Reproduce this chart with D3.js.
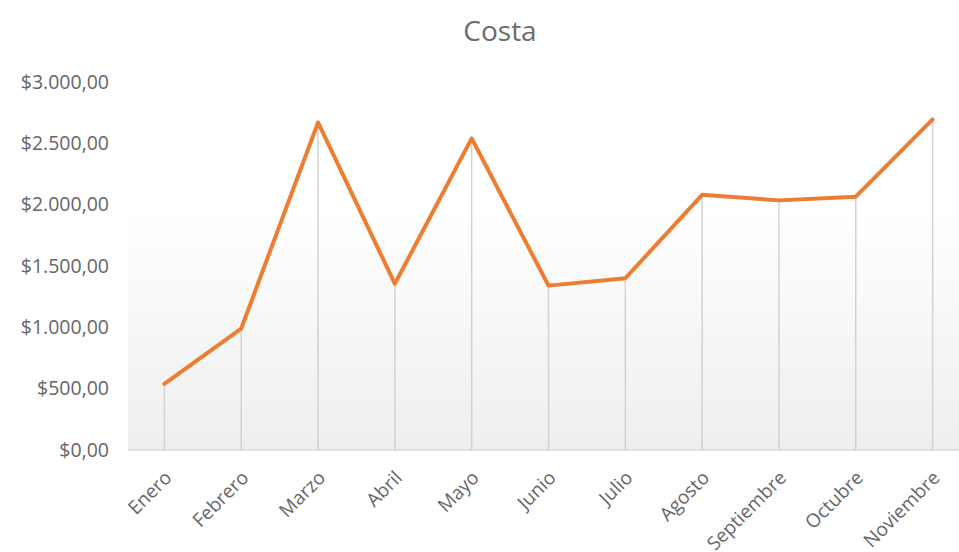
<!DOCTYPE html>
<html>
<head>
<meta charset="utf-8">
<script src="https://cdn.jsdelivr.net/npm/d3@7"></script>
<style>
  html, body { margin: 0; padding: 0; background: #fff; }
  svg { display: block; }
</style>
</head>
<body>
<svg id="chart" width="959" height="552"></svg>
<script>
// Monthly figures for "Costa"
const title = "Costa";
const months = ["Enero", "Febrero", "Marzo", "Abril", "Mayo", "Junio", "Julio",
                "Agosto", "Septiembre", "Octubre", "Noviembre"];
const values = [540, 990, 2670, 1355, 2540, 1340, 1400, 2080, 2035, 2065, 2695];
const yTicks = [0, 500, 1000, 1500, 2000, 2500, 3000];

const svg = d3.select("#chart");
const plot = { left: 128, right: 959, top: 82, bottom: 450 };

const x = d3.scalePoint().domain(months).range([126, 971]).padding(0.5);
const y = d3.scaleLinear().domain([0, 3000]).range([plot.bottom, plot.top]);

// es-ES style currency: $3.000,00
const money = v => "$" + d3.format(",.2f")(v).replace(/,/g, "#").replace(/\./g, ",").replace(/#/g, ".");

// plot-area gradient (white at top, pale grey at base)
const defs = svg.append("defs");
const grad = defs.append("linearGradient")
  .attr("id", "plotBg").attr("x1", 0).attr("y1", 0).attr("x2", 0).attr("y2", 1);
grad.append("stop").attr("offset", "0%").attr("stop-color", "#ffffff");
grad.append("stop").attr("offset", "35%").attr("stop-color", "#ffffff");
grad.append("stop").attr("offset", "100%").attr("stop-color", "#eeeeee");

svg.append("rect")
  .attr("x", plot.left).attr("y", plot.top)
  .attr("width", plot.right - plot.left).attr("height", plot.bottom - plot.top)
  .attr("fill", "url(#plotBg)");

// title
svg.append("text")
  .attr("x", 500).attr("y", 41)
  .attr("text-anchor", "middle")
  .attr("font-family", "'Open Sans', sans-serif")
  .attr("font-size", 28)
  .attr("fill", "#6b6b6b")
  .text(title);

// y axis labels (no axis line)
const yAxis = d3.axisLeft(y).tickValues(yTicks).tickFormat(money).tickSize(0).tickPadding(0);
const yG = svg.append("g").attr("transform", "translate(109,0)").call(yAxis);
yG.select(".domain").remove();
yG.selectAll("text")
  .attr("font-family", "'Open Sans', sans-serif")
  .attr("font-size", 19.5)
  .attr("fill", "#666666");

// drop lines from each point to the base
svg.append("g").selectAll("line")
  .data(values)
  .join("line")
  .attr("x1", (d, i) => x(months[i])).attr("x2", (d, i) => x(months[i]))
  .attr("y1", d => y(d)).attr("y2", y(0))
  .attr("stroke", "#d2d2d2").attr("stroke-width", 1.5);

// x axis baseline and rotated labels
const xAxis = d3.axisBottom(x).tickSize(0).tickPadding(0);
const xG = svg.append("g").attr("transform", `translate(0,${y(0)})`).call(xAxis);
xG.select(".domain")
  .attr("d", `M${plot.left},0H${plot.right}`)
  .attr("stroke", "#d9d9d9").attr("stroke-width", 1.5);
xG.selectAll("text")
  .attr("font-family", "'Open Sans', sans-serif")
  .attr("font-size", 19)
  .attr("fill", "#666666")
  .attr("text-anchor", "end")
  .attr("dy", 0)
  .attr("transform", "translate(8,29) rotate(-45)");

// series line
const line = d3.line()
  .x((d, i) => x(months[i]))
  .y(d => y(d));

svg.append("path")
  .datum(values)
  .attr("d", line)
  .attr("fill", "none")
  .attr("stroke", "#ED7D31")
  .attr("stroke-width", 4)
  .attr("stroke-linejoin", "round")
  .attr("stroke-linecap", "round");
</script>
</body>
</html>
